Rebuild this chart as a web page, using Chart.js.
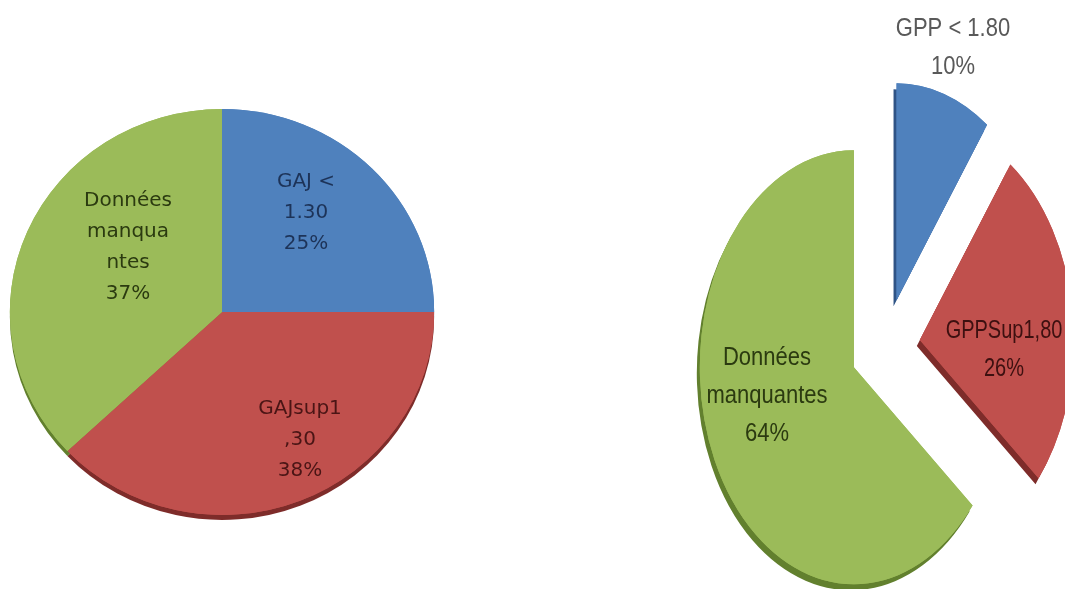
<!DOCTYPE html>
<html>
<head>
<meta charset="utf-8">
<script src="https://cdn.jsdelivr.net/npm/chart.js@4.4.0/dist/chart.umd.min.js"></script>
<style>
  html, body { margin: 0; padding: 0; background: #fff; }
  body { width: 1065px; height: 589px; position: relative; overflow: hidden; }
  canvas { position: absolute; top: 0; }
  #gajChart { left: 0; }
  #gppChart { left: 600px; }
</style>
</head>
<body>
<canvas id="gajChart" width="500" height="589"></canvas>
<canvas id="gppChart" width="465" height="589"></canvas>
<script>
// left pie: GAJ
const gajLabels = ["GAJ < 1.30", "GAJsup1,30", "Données manquantes"];
const gajValues = [25, 38, 37];
// right pie: GPP (exploded)
const gppLabels = ["GPP < 1.80", "GPPSup1,80", "Données manquantes"];
const gppValues = [10, 26, 64];

const fills = ["#4f81bd", "#c0504d", "#9bbb59"];
const edges = ["#2f5486", "#7e2c2a", "#62802e"];

// squeeze the pie into an ellipse, pull slices out, add a dark edge below (fake 3D)
const pseudo3d = {
  id: "pseudo3d",
  beforeDatasetDraw(chart, args, opts) {
    const ctx = chart.ctx;
    const arcs = args.meta.data;
    if (!arcs.length) return;
    const cx = arcs[0].x, cy = arcs[0].y;
    const explode = opts.explode || [];
    const drawArc = (arc, i, withEdge) => {
      const mid = (arc.startAngle + arc.endAngle) / 2;
      const e = explode[i] || 0;
      ctx.save();
      if (withEdge) {
        ctx.shadowColor = edges[i];
        ctx.shadowBlur = 0;
        ctx.shadowOffsetX = opts.dx;
        ctx.shadowOffsetY = opts.dy;
      }
      ctx.translate(Math.cos(mid) * e, Math.sin(mid) * e);
      arc.draw(ctx);
      ctx.restore();
    };
    ctx.save();
    ctx.translate(cx, cy);
    ctx.scale(opts.sx, opts.sy);
    ctx.translate(-cx, -cy);
    arcs.forEach((arc, i) => drawArc(arc, i, true));
    arcs.forEach((arc, i) => drawArc(arc, i, false));
    ctx.restore();
    return false;
  }
};

const textLabels = {
  id: "textLabels",
  afterDraw(chart, args, opts) {
    const ctx = chart.ctx;
    ctx.save();
    ctx.textAlign = "center";
    ctx.textBaseline = "middle";
    ctx.font = opts.font;
    opts.items.forEach(it => {
      ctx.fillStyle = it.color;
      it.lines.forEach((t, k) => {
        ctx.save();
        ctx.translate(it.x, it.y + k * opts.lineHeight);
        ctx.scale(it.squeeze || opts.squeeze, 1);
        ctx.fillText(t, 0, 0);
        ctx.restore();
      });
    });
    ctx.restore();
  }
};

Chart.register(pseudo3d, textLabels);

function pieOptions(padding, radius, p3d, labels) {
  return {
    responsive: false,
    animation: false,
    layout: { padding: padding },
    radius: radius,
    plugins: {
      legend: { display: false },
      tooltip: { enabled: false },
      pseudo3d: p3d,
      textLabels: labels
    }
  };
}

new Chart(document.getElementById("gajChart"), {
  type: "pie",
  data: {
    labels: gajLabels,
    datasets: [{
      data: gajValues,
      backgroundColor: fills,
      borderWidth: 0,
      hoverOffset: 0
    }]
  },
  options: pieOptions(
    { left: 0, right: 56, top: 35, bottom: 0 }, 203,
    { sx: 1.045, sy: 1, dx: 0, dy: 5 },
    {
      font: '20px "DejaVu Sans"',
      lineHeight: 31,
      squeeze: 1,
      items: [
        { x: 306, y: 182, color: "#1d3358", lines: ["GAJ <", "1.30", "25%"] },
        { x: 300, y: 409, color: "#4a1515", lines: ["GAJsup1", ",30", "38%"] },
        { x: 128, y: 201, color: "#2b3a10", lines: ["Données", "manqua", "ntes", "37%"] }
      ]
    }
  )
});

new Chart(document.getElementById("gppChart"), {
  type: "pie",
  data: {
    labels: gppLabels,
    datasets: [{
      data: gppValues,
      backgroundColor: fills,
      borderWidth: 0,
      hoverOffset: 0
    }]
  },
  options: pieOptions(
    { left: 107, right: 0, top: 103, bottom: 0 }, 217,
    { sx: 0.71, sy: 1, dx: -3, dy: 6, explode: [48, 48, 50] },
    {
      font: '25px "Liberation Sans"',
      lineHeight: 38,
      squeeze: 0.88,
      items: [
        { x: 353, y: 29, color: "#595959", lines: ["GPP < 1.80", "10%"] },
        { x: 404, y: 331, color: "#3d1010", squeeze: 0.8, lines: ["GPPSup1,80", "26%"] },
        { x: 167, y: 358, color: "#2b3a10", lines: ["Données", "manquantes", "64%"] }
      ]
    }
  )
});
</script>
</body>
</html>
